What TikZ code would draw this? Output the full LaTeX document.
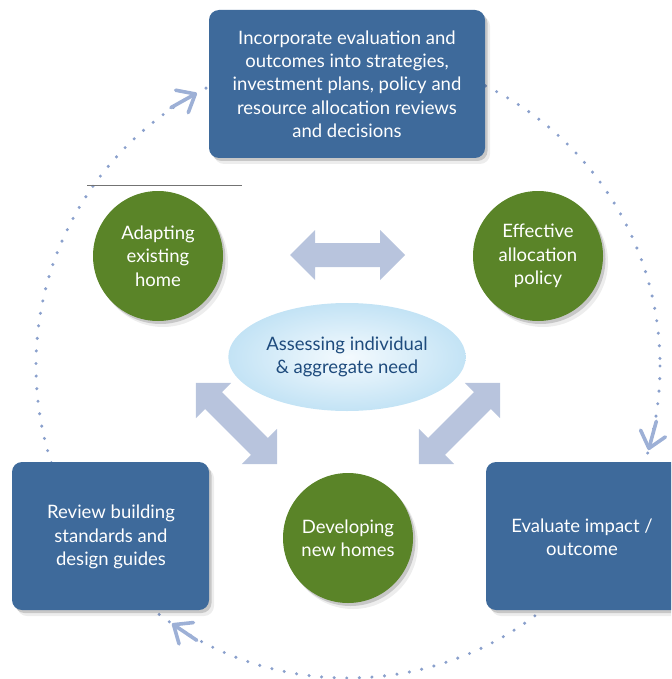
\documentclass[tikz,border=0pt]{standalone}
\usepackage{fontspec}
\setmainfont{Lato}
\usetikzlibrary{calc,shadows,shapes.geometric}
\definecolor{boxblue}{HTML}{3E6A9B}
\definecolor{leafgreen}{HTML}{5A8428}
\definecolor{arrowlav}{HTML}{B8C4DD}
\definecolor{dotblue}{HTML}{8AA0CC}
\definecolor{cycblue}{HTML}{9DB0D6}
\definecolor{ellout}{HTML}{C3E3F5}
\definecolor{ellin}{HTML}{F4FAFE}
\definecolor{elltext}{HTML}{1E4B7D}
\begin{document}
\begin{tikzpicture}[x=1pt,y=-1pt,
  softshadow/.style={drop shadow={shadow xshift=2.5pt,shadow yshift=-3pt,opacity=0.16,fill=black},
                     drop shadow={shadow xshift=5pt,shadow yshift=-6pt,opacity=0.07,fill=black}},
  bluebox/.style={rectangle, rounded corners=10pt, fill=boxblue, inner sep=0pt, softshadow},
  boxtext/.style={text=white, align=center, font=\fontsize{18.5}{23.3}\selectfont, inner sep=0pt},
  greencirc/.style={circle, fill=leafgreen, minimum size=130pt, inner sep=0pt, softshadow,
                    text=white, align=center, font=\fontsize{18.5}{23.3}\selectfont},
  fatarrow/.style={fill=arrowlav},
  cyc/.style={draw=cycblue, line width=3.6pt, line cap=round, line join=round},
  dots/.style={draw=dotblue, line width=3.4pt, line cap=round, dash pattern=on 0pt off 12.6pt},
]
\clip (0,0) rectangle (671,679);
\useasboundingbox (0,0) rectangle (671,679);

% dotted cycle
\coordinate (C) at (348,366);
\draw[dots] (C) circle (312);
\foreach \a in {240.7,15.3,124} {
  \coordinate (tip) at ($(C)+(\a:312)$);
  \draw[cyc] ($(tip)+(\a+270:28)$) -- (tip);
  \draw[cyc] ($(tip)+(\a+230:20)$) -- (tip) -- ($(tip)+(\a+310:20)$);
}

% boxes
\node[bluebox, minimum width=276pt, minimum height=148pt] (top) at (347,84) {};
\node[boxtext] (toptext) at (347,84) {Incorporate evaluation and\\outcomes into strategies,\\investment plans, policy and\\resource allocation reviews\\and decisions};
\node[bluebox, minimum width=197pt, minimum height=148pt] (left) at (110.5,536) {};
\node[boxtext] (lefttext) at (111,537) {Review building\\standards and\\design guides};
\node[bluebox, minimum width=220pt, minimum height=148pt] (right) at (596,536) {};
\node[boxtext] (righttext) at (582,537) {Evaluate impact /\\outcome};

% thin rule
\coordinate (r1) at (87,185);
\coordinate (r2) at (242,185);
\draw[draw=black!55, line width=0.8pt] (r1) -- (r2);

% green circles
\node[greencirc] (adapt) at (158,256) {Adapting\\existing\\home};
\node[greencirc] (alloc) at (538,256) {Effective\\allocation\\policy};
\node[greencirc] (dev) at (348,538) {Developing\\new homes};

% centre ellipse
\node[ellipse, inner color=ellin, outer color=ellout, minimum width=216pt, minimum height=108pt,
      text=elltext, align=center, font=\fontsize{18.5}{23.3}\selectfont] (need) at (347,357)
      {Assessing individual\\\& aggregate need};

% fat double arrows
\foreach \cx/\cy/\r in {347.5/255/0, 236.5/423.5/-45, 459.5/423.5/45} {
  \begin{scope}[shift={(\cx,\cy)}, rotate=\r]
    \fill[fatarrow] (-57.5,0) -- (-32.5,25) -- (-32.5,12) -- (32.5,12) -- (32.5,25) -- (57.5,0)
      -- (32.5,-25) -- (32.5,-12) -- (-32.5,-12) -- (-32.5,-25) -- cycle;
  \end{scope}
}
\end{tikzpicture}
\end{document}
